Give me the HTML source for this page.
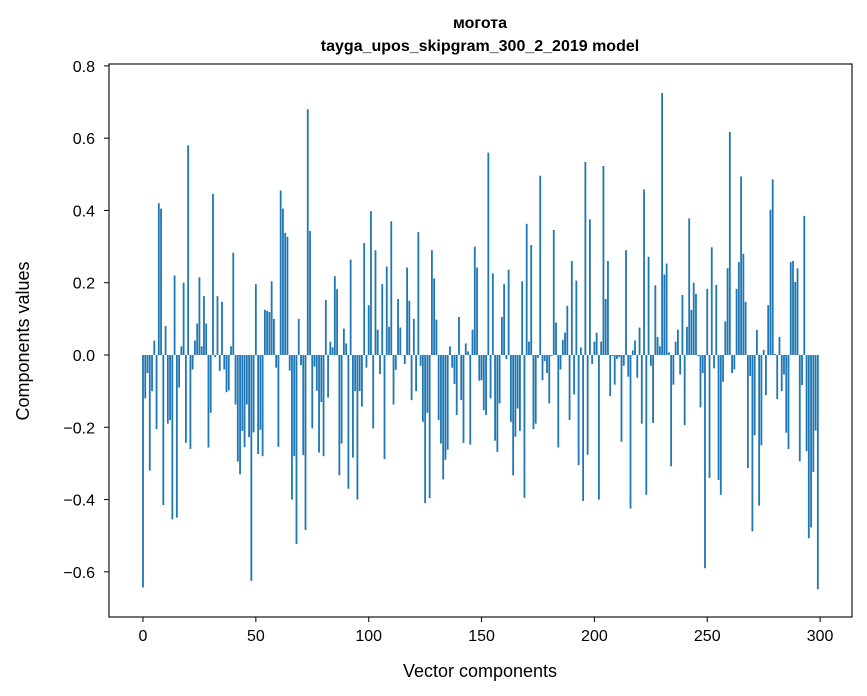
<!DOCTYPE html>
<html><head><meta charset="utf-8">
<style>
html,body{margin:0;padding:0;background:#fff;}
svg{display:block;font-family:"Liberation Sans","DejaVu Sans",sans-serif;}
</style></head>
<body>
<svg id="chart" width="867" height="696" viewBox="0 0 867 696" xmlns="http://www.w3.org/2000/svg">
<rect x="0" y="0" width="867" height="696" fill="#fff"/>
<text x="480" y="28" text-anchor="middle" font-size="16" font-weight="bold">могота</text>
<text x="480" y="51" text-anchor="middle" font-size="16" font-weight="bold">tayga_upos_skipgram_300_2_2019 model</text>
<g id="bars"></g>
<g id="xticks"></g>
<g id="yticks"></g>
<rect x="109" y="64" width="743" height="553" fill="none" stroke="#000" stroke-width="1.1"/>
<text x="480" y="677" text-anchor="middle" font-size="18">Vector components</text>
<text x="29" y="341" text-anchor="middle" font-size="18" transform="rotate(-90 29 341)">Components values</text>
</svg>
<script>
const values = [
-0.643,-0.12,-0.05,-0.32,-0.10,0.04,-0.205,0.42,0.405,-0.415,
0.08,-0.19,-0.18,-0.455,0.22,-0.45,-0.09,0.024,0.2,-0.243,
0.58,-0.26,-0.04,0.04,0.087,0.215,0.024,0.163,0.087,-0.256,
-0.16,0.446,-0.006,0.163,-0.044,0.147,-0.04,-0.103,-0.098,0.024,
0.283,-0.137,-0.295,-0.33,-0.21,-0.255,-0.137,-0.227,-0.625,-0.214,
0.196,-0.274,-0.207,-0.28,0.125,0.122,0.119,0.204,0.1,-0.035,
-0.254,0.455,0.405,0.338,0.327,-0.043,-0.4,-0.28,-0.523,0.1,
-0.028,-0.277,-0.484,0.68,0.343,-0.203,-0.032,-0.099,-0.27,-0.13,
-0.28,0.152,-0.118,0.037,0.021,0.218,0.182,-0.333,-0.245,0.073,
0.032,-0.37,0.264,-0.284,-0.10,-0.4,-0.1,-0.143,0.31,-0.035,
0.138,0.398,-0.203,0.29,0.07,-0.053,0.196,-0.288,0.245,0.078,
0.37,-0.137,-0.041,0.155,0.076,0.0,-0.025,0.242,0.15,-0.125,
0.1,-0.1,0.34,-0.03,-0.185,-0.41,-0.16,-0.396,0.29,0.212,
0.098,-0.18,-0.245,-0.344,-0.29,-0.262,0.024,-0.035,-0.08,-0.166,
0.105,-0.125,-0.243,0.032,0.01,-0.248,0.07,0.3,0.242,-0.071,
-0.07,-0.153,-0.166,0.56,-0.12,0.226,-0.237,-0.268,-0.134,0.105,
0.196,-0.011,0.236,-0.185,-0.333,-0.226,-0.148,-0.21,0.204,-0.395,
0.363,0.037,0.304,-0.205,-0.19,-0.008,0.496,-0.07,-0.017,-0.05,
-0.134,-0.003,0.346,0.09,-0.256,-0.04,0.042,0.062,0.136,-0.18,
0.26,-0.109,0.206,-0.305,0.021,-0.404,0.534,-0.276,0.375,-0.025,
0.037,0.062,-0.4,0.037,0.523,0.155,0.26,-0.114,-0.003,-0.082,
-0.011,-0.006,-0.24,-0.03,0.29,-0.06,-0.425,0.013,0.04,-0.063,
0.076,-0.19,0.458,-0.387,0.272,-0.03,-0.188,0.193,0.05,0.024,
0.725,0.223,0.253,0.007,-0.308,-0.082,0.037,0.07,-0.054,0.166,
-0.194,0.078,0.378,0.125,0.2,0.169,-0.003,-0.145,-0.05,-0.59,
0.183,-0.34,0.298,-0.037,0.194,-0.346,-0.387,-0.074,0.093,0.24,
0.617,-0.05,-0.04,0.183,0.257,0.494,0.28,0.147,-0.313,-0.058,
-0.488,-0.222,0.069,-0.417,-0.25,0.014,-0.111,0.138,0.402,0.486,
0.003,-0.122,0.05,-0.1,-0.054,-0.215,-0.26,0.257,0.26,0.202,
0.24,-0.294,-0.083,0.385,-0.266,-0.507,-0.477,-0.324,-0.209,-0.648
];
const xTickValues = [0,50,100,150,200,250,300];
const yTickValues = [-0.6,-0.4,-0.2,0.0,0.2,0.4,0.6,0.8];
const yTickLabels = ["\u22120.6","\u22120.4","\u22120.2","0.0","0.2","0.4","0.6","0.8"];

const NS = "http://www.w3.org/2000/svg";
function xScale(v){ return 143 + v * 2.257; }
function yScale(v){ return 355 - v * 361.4; }

const barsG = document.getElementById('bars');
const bw = 0.8 * 2.257;
values.forEach((v, i) => {
  const r = document.createElementNS(NS, 'rect');
  const y0 = yScale(0), y1 = yScale(v);
  r.setAttribute('x', xScale(i) - bw/2);
  r.setAttribute('y', Math.min(y0, y1));
  r.setAttribute('width', bw);
  r.setAttribute('height', Math.max(Math.abs(y1 - y0), 0.3));
  r.setAttribute('fill', '#1f77b4');
  
  
  barsG.appendChild(r);
});

const xg = document.getElementById('xticks');
xTickValues.forEach(t => {
  const x = xScale(t);
  const l = document.createElementNS(NS, 'line');
  l.setAttribute('x1', x); l.setAttribute('x2', x);
  l.setAttribute('y1', 617); l.setAttribute('y2', 622);
  l.setAttribute('stroke', '#000');
  
  
  xg.appendChild(l);
  const tx = document.createElementNS(NS, 'text');
  tx.setAttribute('x', x); tx.setAttribute('y', 641);
  tx.setAttribute('text-anchor', 'middle');
  tx.setAttribute('font-size', '16');
  tx.textContent = String(t);
  
  
  xg.appendChild(tx);
});

const yg = document.getElementById('yticks');
yTickValues.forEach((t, k) => {
  const y = yScale(t);
  const l = document.createElementNS(NS, 'line');
  l.setAttribute('x1', 104); l.setAttribute('x2', 109);
  l.setAttribute('y1', y); l.setAttribute('y2', y);
  l.setAttribute('stroke', '#000');
  
  
  yg.appendChild(l);
  const tx = document.createElementNS(NS, 'text');
  tx.setAttribute('x', 95); tx.setAttribute('y', y + 6);
  tx.setAttribute('text-anchor', 'end');
  tx.setAttribute('font-size', '16');
  tx.textContent = yTickLabels[k];
  
  
  yg.appendChild(tx);
});
</script>
</body></html>
